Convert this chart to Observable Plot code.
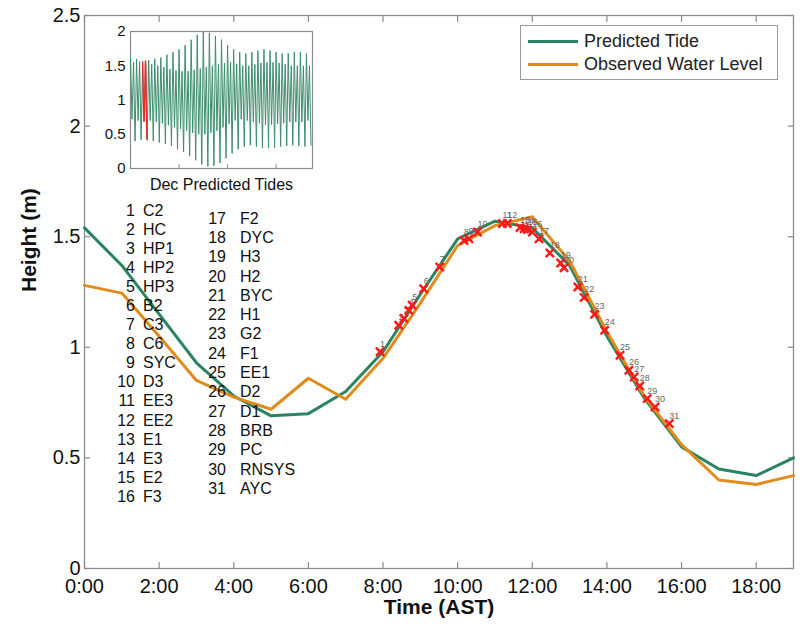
<!DOCTYPE html>
<html>
<head>
<meta charset="utf-8">
<script src="https://cdn.jsdelivr.net/npm/d3@7"></script>
<script src="https://cdn.jsdelivr.net/npm/@observablehq/plot@0.6"></script>
<style>
  body { margin: 0; background: #fff; font-family: "Liberation Sans", Arial, sans-serif; }
  #wrap { position: relative; width: 806px; height: 625px; overflow: hidden; }
  #wrap svg { position: absolute; }
  .legend { position: absolute; left: 520px; top: 25px; width: 258px; height: 55px; border: 1px solid #9a9a9a; background: #fff; box-sizing: border-box; }
  .legend .row { position: absolute; left: 7px; height: 22px; display: flex; align-items: center; font-size: 18px; color: #222; white-space: nowrap; }
  .legend .sw { width: 50px; height: 3px; margin-right: 6px; }
  .col { position: absolute; font-size: 16px; color: #111; }
  .col .r { display: flex; white-space: nowrap; }
  .col .n { text-align: right; }
</style>
</head>
<body>
<div id="wrap"></div>
<script>
// ---------- data ----------
const hours     = [0, 1, 2, 3, 4, 5, 6, 7, 8, 9, 10, 11, 12, 13, 14, 15, 16, 17, 18, 19];
const predicted = [1.54, 1.37, 1.15, 0.93, 0.78, 0.69, 0.70, 0.80, 0.98, 1.24, 1.49, 1.57, 1.54, 1.37, 1.05, 0.77, 0.55, 0.45, 0.42, 0.50];
const observed  = [1.28, 1.245, 1.05, 0.85, 0.775, 0.72, 0.86, 0.765, 0.95, 1.20, 1.46, 1.55, 1.59, 1.39, 1.07, 0.78, 0.56, 0.40, 0.38, 0.42];

const stationNum   = [1,2,3,4,5,6,7,8,9,10,11,12,13,14,15,16,17,18,19,20,21,22,23,24,25,26,27,28,29,30,31];
const stationName  = ["C2","HC","HP1","HP2","HP3","B2","C3","C6","SYC","D3","EE3","EE2","E1","E3","E2","F3",
                      "F2","DYC","H3","H2","BYC","H1","G2","F1","EE1","D2","D1","BRB","PC","RNSYS","AYC"];
const stationTime  = [7.92, 8.42, 8.56, 8.69, 8.78, 9.09, 9.52, 10.17, 10.30, 10.53, 11.20, 11.33, 11.67, 11.78, 11.87, 12.00,
                      12.18, 12.47, 12.76, 12.85, 13.22, 13.39, 13.67, 13.94, 14.35, 14.59, 14.73, 14.88, 15.08, 15.29, 15.67];
const stationHeight= [0.98, 1.10, 1.13, 1.167, 1.19, 1.265, 1.363, 1.483, 1.491, 1.521, 1.56, 1.56, 1.541, 1.536, 1.532, 1.521,
                      1.491, 1.426, 1.381, 1.36, 1.273, 1.225, 1.149, 1.077, 0.964, 0.896, 0.866, 0.825, 0.768, 0.73, 0.655];

const xTicks = [0, 2, 4, 6, 8, 10, 12, 14, 16, 18];
const yTicks = [0, 0.5, 1, 1.5, 2, 2.5];
const yTickLabels = ["0", "0.5", "1", "1.5", "2", "2.5"];

// inset: December predicted tide extremes per day (high, higher low, high, lower low)
const insetDay  = [0,1,2,3,4,5,6,7,8,9,10,11,12,13,14,15,16,17,18,19,20,21,22,23,24,25,26,27,28,29];
const insetHiA  = [1.62,1.60,1.57,1.58,1.60,1.62,1.66,1.70,1.74,1.80,1.88,1.95,1.99,1.98,1.93,1.88,1.80,1.74,1.70,1.68,1.70,1.72,1.74,1.72,1.70,1.68,1.68,1.70,1.70,1.68];
const insetLoA  = [0.72,0.70,0.69,0.70,0.68,0.66,0.63,0.60,0.58,0.55,0.52,0.50,0.50,0.52,0.55,0.60,0.65,0.70,0.72,0.70,0.68,0.66,0.64,0.64,0.65,0.66,0.68,0.68,0.68,0.70];
const insetHiB  = [1.55,1.56,1.55,1.52,1.50,1.48,1.45,1.43,1.42,1.42,1.44,1.46,1.48,1.50,1.52,1.54,1.55,1.53,1.50,1.50,1.52,1.54,1.55,1.55,1.54,1.52,1.50,1.50,1.50,1.50];
const insetLoB  = [0.40,0.42,0.42,0.40,0.38,0.36,0.33,0.28,0.24,0.18,0.12,0.06,0.03,0.04,0.08,0.15,0.22,0.28,0.32,0.34,0.32,0.30,0.30,0.30,0.32,0.33,0.34,0.33,0.32,0.34];
const insetTicks = [8, 16, 24];
const insetYTicks = [0, 0.5, 1, 1.5, 2];
const insetYTickLabels = ["0", "0.5", "1", "1.5", "2"];
const insetRedDay = 2;

const legendLabels = ["Predicted Tide", "Observed Water Level"];
const colors = {pred: "#2b8461", obs: "#e08b1c", cross: "#ff1a1a", axis: "#8c8c8c"};

// ---------- tables ----------
const rows = hours.map((h, i) => ({h, pred: predicted[i], obs: observed[i]}));
const stations = stationNum.map((n, i) => ({n, name: stationName[i], t: stationTime[i], v: stationHeight[i]}));
const insetRows = [];
insetDay.forEach((d, i) => {
  insetRows.push({t: d, v: insetHiA[i]}, {t: d + 0.25, v: insetLoA[i]}, {t: d + 0.5, v: insetHiB[i]}, {t: d + 0.75, v: insetLoB[i]});
});

const font = "Liberation Sans, Arial, sans-serif";
const wrap = document.getElementById("wrap");

// ---------- main chart ----------
const main = Plot.plot({
  width: 806, height: 625,
  marginTop: 15, marginRight: 13, marginBottom: 57, marginLeft: 84,
  style: {fontFamily: font, background: "transparent", color: "#111", overflow: "visible"},
  x: {domain: [0, 19]},
  y: {domain: [0, 2.5]},
  marks: [
    Plot.frame({stroke: colors.axis, strokeWidth: 1.3}),
    Plot.axisX({anchor: "bottom", ticks: xTicks, tickSize: -6, fill: "none", stroke: colors.axis, strokeWidth: 1.2, label: null}),
    Plot.axisX({anchor: "top", ticks: xTicks, tickSize: -6, fill: "none", stroke: colors.axis, strokeWidth: 1.2, label: null}),
    Plot.axisY({anchor: "left", ticks: yTicks, tickSize: -6, fill: "none", stroke: colors.axis, strokeWidth: 1.2, label: null}),
    Plot.axisY({anchor: "right", ticks: yTicks, tickSize: -6, fill: "none", stroke: colors.axis, strokeWidth: 1.2, label: null}),
    Plot.axisX({anchor: "bottom", ticks: xTicks, tickSize: 0, tickPadding: 10, tickFormat: d => `${d}:00`, fontSize: 20, fill: "#111", label: null}),
    Plot.axisY({anchor: "left", ticks: yTicks, tickSize: 0, tickPadding: 4, tickFormat: (d, i) => yTickLabels[i], fontSize: 20, fill: "#111", label: null}),
    Plot.text(["Time (AST)"], {frameAnchor: "bottom", dy: 45, fontSize: 21, fontWeight: "bold", fill: "#111"}),
    Plot.text(["Height (m)"], {frameAnchor: "left", dx: -55, rotate: -90, fontSize: 21, fontWeight: "bold", fill: "#111"}),
    Plot.line(rows, {x: "h", y: "pred", stroke: colors.pred, strokeWidth: 3}),
    Plot.line(rows, {x: "h", y: "obs", stroke: colors.obs, strokeWidth: 3}),
    Plot.text(stations, {x: "t", y: "v", text: "n", dx: 0, dy: -8, textAnchor: "start", fontSize: 9, fill: "#666"}),
    Plot.dot(stations, {x: "t", y: "v", symbol: "times", r: 3.8, stroke: colors.cross, strokeWidth: 2.5})
  ]
});
main.style.left = "0px"; main.style.top = "0px";
wrap.appendChild(main);

// ---------- inset ----------
const inset = Plot.plot({
  width: 222, height: 180,
  marginTop: 11, marginRight: 5, marginBottom: 32, marginLeft: 35,
  style: {fontFamily: font, background: "transparent", color: "#111", overflow: "visible"},
  x: {domain: [0, 30]},
  y: {domain: [0, 2]},
  marks: [
    Plot.frame({fill: "white", stroke: colors.axis, strokeWidth: 1.2}),
    Plot.line(insetRows, {x: "t", y: "v", stroke: "#3e8e6e", strokeWidth: 1}),
    Plot.line(rows, {x: d => insetRedDay + d.h / 24, y: "pred", stroke: "#ee2a2a", strokeWidth: 1.3}),
    Plot.axisX({anchor: "bottom", ticks: insetTicks, tickSize: -4, fill: "none", stroke: colors.axis, label: null}),
    Plot.axisY({anchor: "left", ticks: insetYTicks, tickSize: 0, tickPadding: 5, tickFormat: (d, i) => insetYTickLabels[i], fontSize: 15, fill: "#111", label: null}),
    Plot.text(["Dec Predicted Tides"], {frameAnchor: "bottom", dy: 21, fontSize: 16, fill: "#111"})
  ]
});
inset.style.left = "95px"; inset.style.top = "20px";
wrap.appendChild(inset);

// ---------- legend ----------
const legend = document.createElement("div");
legend.className = "legend";
[colors.pred, colors.obs].forEach((c, i) => {
  const r = document.createElement("div");
  r.className = "row";
  r.style.top = (i === 0 ? 4 : 27) + "px";
  r.innerHTML = `<span class="sw" style="background:${c}"></span><span>${legendLabels[i]}</span>`;
  legend.appendChild(r);
});
wrap.appendChild(legend);

// ---------- station list ----------
function makeCol(items, left, top, lh, numW, gap) {
  const col = document.createElement("div");
  col.className = "col";
  col.style.left = left + "px";
  col.style.top = top + "px";
  col.style.lineHeight = lh + "px";
  items.forEach(s => {
    const r = document.createElement("div");
    r.className = "r";
    r.innerHTML = `<span class="n" style="width:${numW}px;margin-right:${gap}px">${s.n}</span><span>${s.name}</span>`;
    col.appendChild(r);
  });
  wrap.appendChild(col);
}
makeCol(stations.slice(0, 16), 110, 200.5, 19.1, 25, 8);
makeCol(stations.slice(16), 196, 208.7, 19.3, 30, 14);
</script>
</body>
</html>
